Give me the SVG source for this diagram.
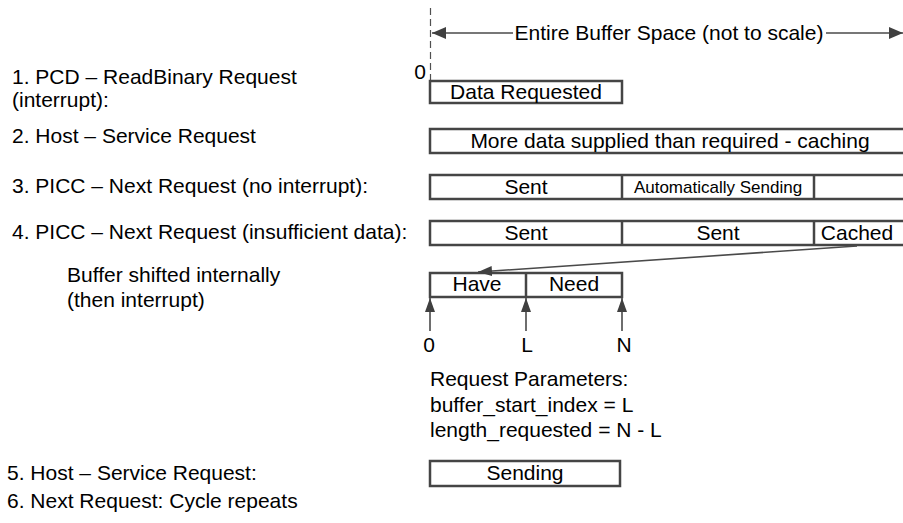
<svg xmlns="http://www.w3.org/2000/svg" width="903" height="523" viewBox="0 0 903 523">
<style>
text{font-family:"Liberation Sans",Arial,sans-serif;font-size:21px;fill:#000}
.c{text-anchor:middle}
.s{font-size:17px}
.box{fill:#fff;stroke:#454545;stroke-width:2.5}
.div{stroke:#454545;stroke-width:2.5}
.ln{stroke:#4a4a4a;stroke-width:1.6;fill:none}
</style>
<defs>
<marker id="ah" markerUnits="userSpaceOnUse" markerWidth="16" markerHeight="12" refX="14" refY="6" orient="auto-start-reverse">
<path d="M0,0 L14,6 L0,12 z" fill="#404040"/>
</marker>
<marker id="ahs" markerUnits="userSpaceOnUse" markerWidth="16" markerHeight="10" refX="14" refY="5" orient="auto">
<path d="M0,0 L14,5 L0,10 z" fill="#404040"/>
</marker>
</defs>

<g id="labels">
<text x="12" y="84">1. PCD – ReadBinary Request</text>
<text x="12" y="107">(interrupt):</text>
<text x="12" y="143">2. Host – Service Request</text>
<text x="12" y="193">3. PICC – Next Request (no interrupt):</text>
<text x="12" y="239">4. PICC – Next Request (insufficient data):</text>
<text x="67" y="282">Buffer shifted internally</text>
<text x="67" y="307">(then interrupt)</text>
<text x="7" y="480">5. Host – Service Request:</text>
<text x="7" y="508">6. Next Request: Cycle repeats</text>
</g>

<g id="scale">
<line x1="430.5" y1="8" x2="430.5" y2="80" stroke="#505050" stroke-width="1.2" stroke-dasharray="7,4"/>
<text x="426" y="79" text-anchor="end">0</text>
<text class="c" x="669" y="40">Entire Buffer Space (not to scale)</text>
</g>

<g id="row1">
<rect class="box" x="430" y="81" width="192" height="22"/>
<text class="c" x="526" y="99">Data Requested</text>
</g>

<g id="row2">
<rect class="box" x="430" y="129" width="476" height="24"/>
<text class="c" x="670" y="148">More data supplied than required - caching</text>
</g>

<g id="row3">
<rect class="box" x="430" y="175" width="476" height="24"/>
<line class="div" x1="622" y1="175" x2="622" y2="199"/>
<line class="div" x1="814" y1="175" x2="814" y2="199"/>
<text class="c" x="526" y="194">Sent</text>
<text class="c s" x="718" y="193">Automatically Sending</text>
</g>

<g id="row4">
<rect class="box" x="430" y="221" width="476" height="24"/>
<line class="div" x1="622" y1="221" x2="622" y2="245"/>
<line class="div" x1="814" y1="221" x2="814" y2="245"/>
<text class="c" x="526" y="240">Sent</text>
<text class="c" x="718" y="240">Sent</text>
<text class="c" x="857" y="240">Cached</text>
</g>

<g id="shifted">
<rect class="box" x="430" y="273" width="192" height="24"/>
<line class="div" x1="526" y1="273" x2="526" y2="297"/>
<text class="c" x="477" y="291">Have</text>
<text class="c" x="574" y="291">Need</text>
<text class="c" x="429" y="352">0</text>
<text class="c" x="527" y="352">L</text>
<text class="c" x="624" y="352">N</text>
</g>

<g id="params">
<text x="430" y="386">Request Parameters:</text>
<text x="430" y="412">buffer_start_index = L</text>
<text x="430" y="437">length_requested = N - L</text>
</g>

<g id="row5">
<rect class="box" x="430" y="461" width="190" height="25"/>
<text class="c" x="525" y="480">Sending</text>
</g>

<g id="connectors">
<line class="ln" x1="513" y1="33" x2="432" y2="33" marker-end="url(#ah)"/>
<line class="ln" x1="826" y1="33" x2="903" y2="33" marker-end="url(#ah)"/>
<line class="ln" x1="857" y1="246" x2="478" y2="272" marker-end="url(#ahs)"/>
<line class="ln" x1="430" y1="331" x2="430" y2="298" marker-end="url(#ahs)"/>
<line class="ln" x1="526" y1="331" x2="526" y2="298" marker-end="url(#ahs)"/>
<line class="ln" x1="622" y1="331" x2="622" y2="298" marker-end="url(#ahs)"/>
</g>
</svg>
